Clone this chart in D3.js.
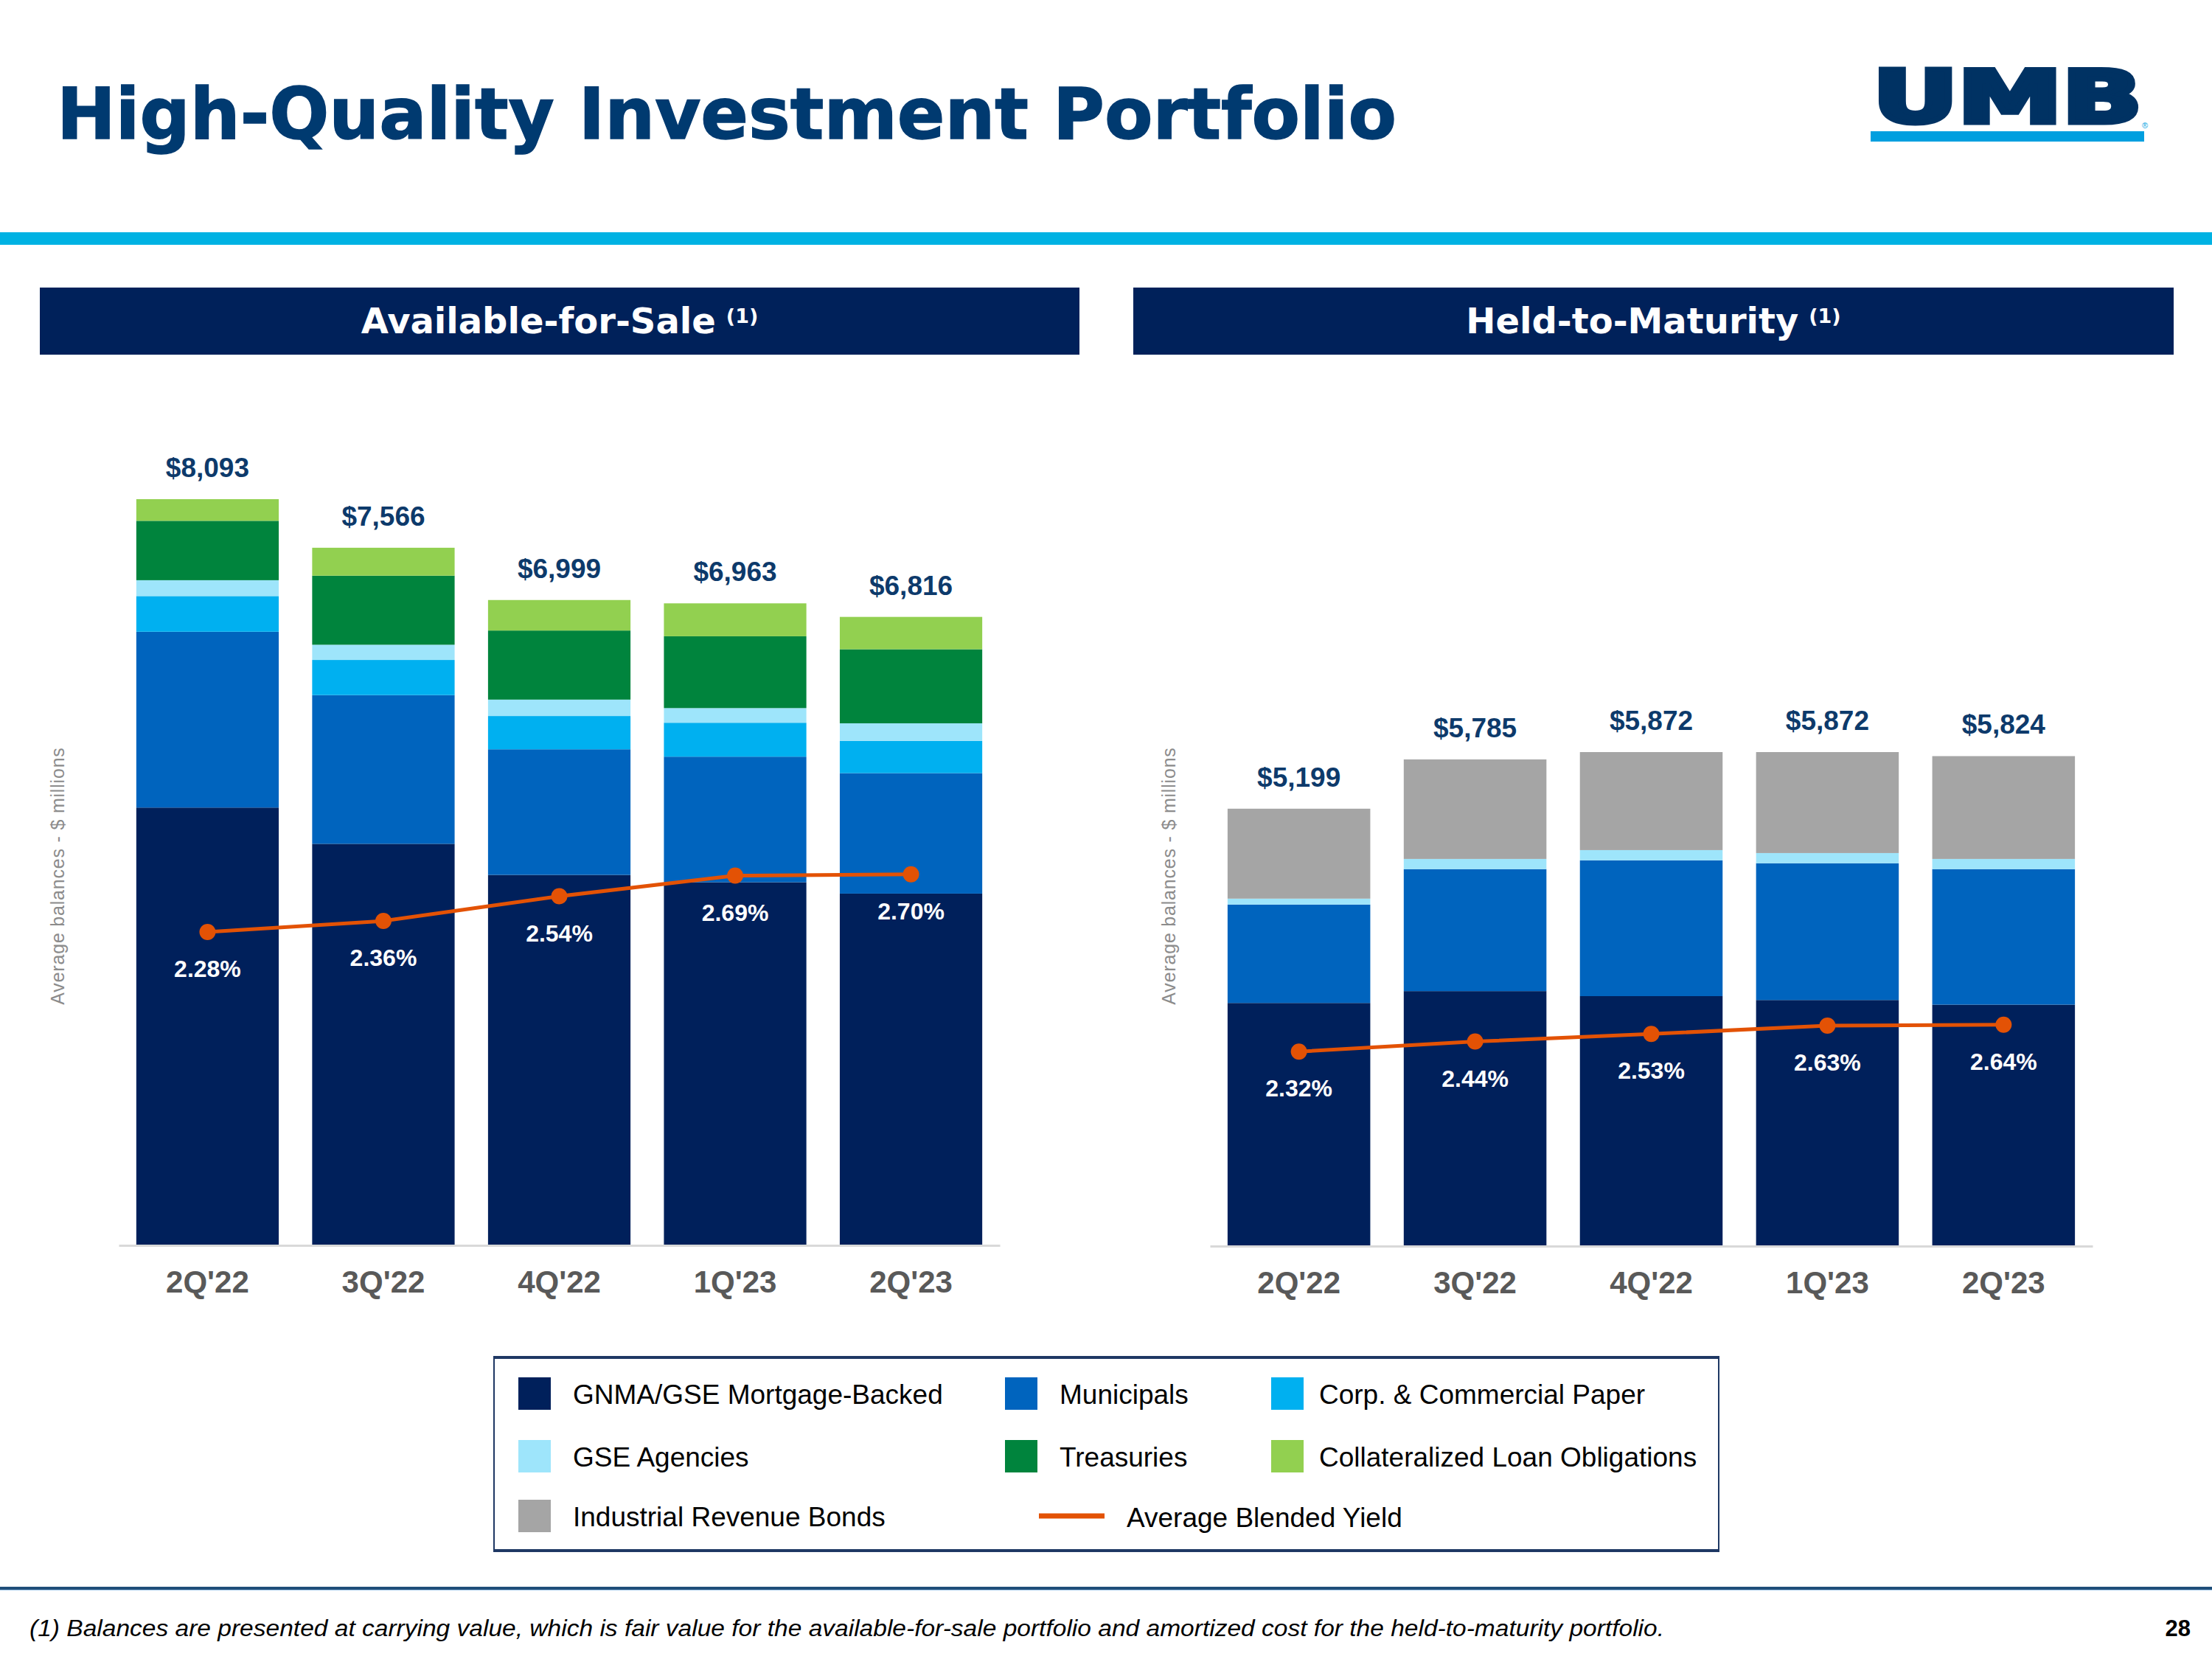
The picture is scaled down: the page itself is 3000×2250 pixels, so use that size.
<!DOCTYPE html>
<html>
<head>
<meta charset="utf-8">
<script src="https://cdn.jsdelivr.net/npm/d3@7"></script>
<style>
  html, body { margin: 0; padding: 0; background: #ffffff; }
  svg { display: block; }
</style>
</head>
<body>
<svg id="chart" width="3000" height="2250"></svg>
<script>
// ---------------- DATA ----------------
const categories = ["2Q'22", "3Q'22", "4Q'22", "1Q'23", "2Q'23"];

// Available-for-Sale ($ millions)
const afsGNMA  = [4748, 4355, 4018, 3938, 3815];
const afsMuni  = [1907, 1613, 1362, 1362, 1307];
const afsCorp  = [387, 381, 361, 368, 350];
const afsGSE   = [172, 165, 178, 159, 190];
const afsTreas = [644, 749, 749, 779, 803];
const afsCLO   = [235, 303, 331, 357, 351];
const afsTotals = [8093, 7566, 6999, 6963, 6816];
const afsYield  = [2.28, 2.36, 2.54, 2.69, 2.70];

// Held-to-Maturity ($ millions)
const htmGNMA = [2890, 3031, 2971, 2925, 2870];
const htmMuni = [1170, 1450, 1615, 1626, 1611];
const htmGSE  = [70, 121, 121, 121, 121];
const htmIRB  = [1069, 1183, 1165, 1200, 1222];
const htmTotals = [5199, 5785, 5872, 5872, 5824];
const htmYield  = [2.32, 2.44, 2.53, 2.63, 2.64];

const legendLabels = ["GNMA/GSE Mortgage-Backed", "Municipals", "Corp. & Commercial Paper",
  "GSE Agencies", "Treasuries", "Collateralized Loan Obligations",
  "Industrial Revenue Bonds", "Average Blended Yield"];

// ---------------- STYLE ----------------
const colors = {
  gnma: "#00205b", muni: "#0064be", corp: "#00b0f0", gse: "#9ee5fb",
  treas: "#00843d", clo: "#92d050", irb: "#a5a5a5", yield: "#e35205"
};
const navy = "#00215a";
const SANS = "'Liberation Sans', Arial, sans-serif";
const HEAVY = "'DejaVu Sans', 'Liberation Sans', sans-serif";

const svg = d3.select("#chart");

// ---------------- HEADER ----------------
svg.append("text")
  .attr("x", 77).attr("y", 188)
  .attr("font-family", HEAVY).attr("font-weight", 700)
  .attr("font-size", 97).attr("fill", "#003a70")
  .attr("stroke", "#003a70").attr("stroke-width", 1.5)
  .attr("textLength", 1817).attr("lengthAdjust", "spacingAndGlyphs")
  .text("High-Quality Investment Portfolio");

// logo
svg.append("text")
  .attr("x", 2540).attr("y", 166)
  .attr("font-family", HEAVY).attr("font-weight", 700)
  .attr("font-size", 98).attr("fill", "#003263")
  .attr("stroke", "#003263").attr("stroke-width", 7).attr("stroke-linejoin", "miter")
  .attr("textLength", 365).attr("lengthAdjust", "spacingAndGlyphs")
  .text("UMB");
svg.append("rect").attr("x", 2537).attr("y", 178).attr("width", 371).attr("height", 14).attr("fill", "#009fdf");
svg.append("text").attr("x", 2905).attr("y", 174).attr("font-family", SANS)
  .attr("font-size", 11).attr("fill", "#009fdf").text("®");

// cyan band
svg.append("rect").attr("x", 0).attr("y", 315).attr("width", 3000).attr("height", 17).attr("fill", "#00b2e3");

// panel headers
function panelHeader(x0, x1, label) {
  svg.append("rect").attr("x", x0).attr("y", 390).attr("width", x1 - x0).attr("height", 91).attr("fill", navy);
  const t = svg.append("text")
    .attr("x", (x0 + x1) / 2).attr("y", 452)
    .attr("text-anchor", "middle")
    .attr("font-family", HEAVY).attr("font-weight", 700)
    .attr("font-size", 48).attr("fill", "#ffffff");
  t.append("tspan").text(label);
  t.append("tspan").attr("dx", 14).attr("dy", -14).attr("font-size", 27).text("(1)");
}
panelHeader(54, 1464, "Available-for-Sale");
panelHeader(1537, 2948, "Held-to-Maturity");

// ---------------- CHART BUILDER ----------------
function buildChart(opts) {
  const g = svg.append("g");
  const x = d3.scaleBand().domain(categories).range([opts.x0, opts.x1])
    .paddingInner(0.19).paddingOuter(0.1);
  const y = d3.scaleLinear().domain([0, 9000]).range([opts.base, opts.base - 9000 * opts.pxPerM]);
  const yY = d3.scaleLinear().domain([0, 5]).range([opts.base, opts.base - 5 * opts.pxPerPct]);

  const rows = categories.map((c, i) => {
    const r = { cat: c };
    opts.series.forEach(s => { r[s.key] = s.values[i]; });
    return r;
  });
  const stack = d3.stack().keys(opts.series.map(s => s.key))(rows);

  g.selectAll("g.layer").data(stack).join("g")
    .attr("fill", d => colors[d.key])
    .selectAll("rect").data(d => d).join("rect")
    .attr("x", d => x(d.data.cat))
    .attr("width", x.bandwidth())
    .attr("y", d => y(d[1]))
    .attr("height", d => y(d[0]) - y(d[1]));

  // axis
  const axis = g.append("g").attr("transform", `translate(0,${opts.base})`)
    .call(d3.axisBottom(x).tickSize(0).tickSizeOuter(0).tickPadding(0));
  axis.select(".domain").attr("stroke", "#d9d9d9").attr("stroke-width", 3);
  axis.selectAll(".tick text")
    .attr("y", 64).attr("dy", 0)
    .attr("font-family", SANS).attr("font-weight", 700)
    .attr("font-size", 42).attr("fill", "#595959");

  // totals
  g.selectAll("text.total").data(opts.totals).join("text")
    .attr("class", "total")
    .attr("x", (d, i) => x(categories[i]) + x.bandwidth() / 2)
    .attr("y", d => y(d) - 30)
    .attr("text-anchor", "middle")
    .attr("font-family", SANS).attr("font-weight", 700)
    .attr("font-size", 37).attr("fill", "#0d3a6b")
    .text(d => "$" + d3.format(",")(d));

  // yield line
  const line = d3.line()
    .x((d, i) => x(categories[i]) + x.bandwidth() / 2)
    .y(d => yY(d));
  g.append("path").datum(opts.yields)
    .attr("d", line).attr("fill", "none")
    .attr("stroke", colors.yield).attr("stroke-width", 5);
  g.selectAll("circle.pt").data(opts.yields).join("circle")
    .attr("class", "pt")
    .attr("cx", (d, i) => x(categories[i]) + x.bandwidth() / 2)
    .attr("cy", d => yY(d)).attr("r", 11).attr("fill", colors.yield);
  g.selectAll("text.yl").data(opts.yields).join("text")
    .attr("class", "yl")
    .attr("x", (d, i) => x(categories[i]) + x.bandwidth() / 2)
    .attr("y", d => yY(d) + 61)
    .attr("text-anchor", "middle")
    .attr("font-family", SANS).attr("font-weight", 700)
    .attr("font-size", 32).attr("fill", "#ffffff")
    .text(d => d.toFixed(2) + "%");

  // y title
  svg.append("text")
    .attr("transform", `translate(${opts.titleX},1188) rotate(-90)`)
    .attr("text-anchor", "middle")
    .attr("font-family", SANS).attr("font-size", 25)
    .attr("fill", "#8c8c8c").attr("letter-spacing", 0.8)
    .text("Average balances  - $ millions");
}

buildChart({
  x0: 161, x1: 1356, base: 1689, pxPerM: 0.12505, pxPerPct: 186.4, titleX: 87,
  series: [
    { key: "gnma", values: afsGNMA }, { key: "muni", values: afsMuni },
    { key: "corp", values: afsCorp }, { key: "gse", values: afsGSE },
    { key: "treas", values: afsTreas }, { key: "clo", values: afsCLO }
  ],
  totals: afsTotals, yields: afsYield
});

buildChart({
  x0: 1641, x1: 2838, base: 1690, pxPerM: 0.1141, pxPerPct: 113.7, titleX: 1594,
  series: [
    { key: "gnma", values: htmGNMA }, { key: "muni", values: htmMuni },
    { key: "gse", values: htmGSE }, { key: "irb", values: htmIRB }
  ],
  totals: htmTotals, yields: htmYield
});

// ---------------- LEGEND ----------------
const lg = svg.append("g");
lg.append("rect").attr("x", 670).attr("y", 1841).attr("width", 1661).attr("height", 262)
  .attr("fill", "none").attr("stroke", "#1f3864").attr("stroke-width", 2);
lg.append("line").attr("x1", 669).attr("x2", 2332).attr("y1", 1841).attr("y2", 1841)
  .attr("stroke", "#1f3864").attr("stroke-width", 4);
lg.append("line").attr("x1", 669).attr("x2", 2332).attr("y1", 2103).attr("y2", 2103)
  .attr("stroke", "#1f3864").attr("stroke-width", 4);

const legendItems = [
  { key: "gnma", col: 0, row: 0 }, { key: "muni", col: 1, row: 0 }, { key: "corp", col: 2, row: 0 },
  { key: "gse", col: 0, row: 1 }, { key: "treas", col: 1, row: 1 }, { key: "clo", col: 2, row: 1 },
  { key: "irb", col: 0, row: 2 }, { key: "yield", col: 1, row: 2 }
];
const colX = [703, 1363, 1724];
const colTextX = [777, 1437, 1789];
const rowY = [1868, 1953, 2034];
legendItems.forEach((it, i) => {
  const sx = colX[it.col], sy = rowY[it.row];
  if (it.key === "yield") {
    lg.append("line").attr("x1", 1409).attr("x2", 1498).attr("y1", sy + 22).attr("y2", sy + 22)
      .attr("stroke", colors.yield).attr("stroke-width", 7);
    lg.append("text").attr("x", 1528).attr("y", sy + 37)
      .attr("font-family", SANS).attr("font-size", 37).attr("fill", "#000")
      .text(legendLabels[i]);
  } else {
    lg.append("rect").attr("x", sx).attr("y", sy).attr("width", 44).attr("height", 44)
      .attr("fill", colors[it.key]);
    lg.append("text").attr("x", colTextX[it.col]).attr("y", sy + 36)
      .attr("font-family", SANS).attr("font-size", 37).attr("fill", "#000")
      .text(legendLabels[i]);
  }
});

// ---------------- FOOTER ----------------
svg.append("rect").attr("x", 0).attr("y", 2152).attr("width", 3000).attr("height", 4).attr("fill", "#1f4e79");
svg.append("rect").attr("x", 0).attr("y", 2156).attr("width", 3000).attr("height", 1).attr("fill", "#9dc3e6");
svg.append("text").attr("x", 40).attr("y", 2219)
  .attr("font-family", SANS).attr("font-style", "italic").attr("font-size", 31).attr("fill", "#000")
  .attr("textLength", 2217).attr("lengthAdjust", "spacingAndGlyphs")
  .text("(1) Balances are presented at carrying value, which is fair value for the available-for-sale portfolio and amortized cost for the held-to-maturity portfolio.");
svg.append("text").attr("x", 2971).attr("y", 2219).attr("text-anchor", "end")
  .attr("font-family", SANS).attr("font-weight", 700).attr("font-size", 31).attr("fill", "#000")
  .text("28");
</script>
</body>
</html>
